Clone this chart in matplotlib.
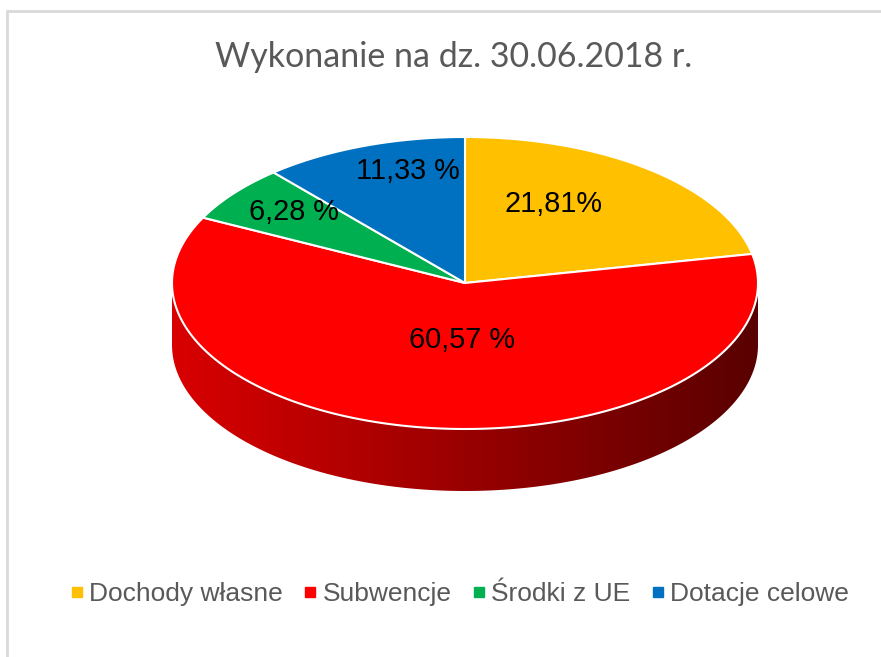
import matplotlib
matplotlib.use("Agg")
import matplotlib.pyplot as plt
from matplotlib.patches import Polygon
from matplotlib.lines import Line2D
from matplotlib import colors
import numpy as np

# data
categories = ["Dochody własne", "Subwencje", "Środki z UE", "Dotacje celowe"]
shares = [21.81, 60.57, 6.28, 11.33]
labels = ["21,81%", "60,57 %", "6,28 %", "11,33 %"]
slice_colors = ["#FFC000", "#FF0000", "#00B050", "#0070C0"]
title = "Wykonanie na dz. 30.06.2018 r."

# layout in pixels (figure is 881 x 657)
W, H = 881, 657
CX, CY = 465, 283      # centre of the pie top
RX, RY = 293, 146      # half axes of the top ellipse
DEPTH = 62             # height of the pie side
# where each label sits: fraction of radius and angle tweak (deg)
label_r = [0.62, 0.39, 0.76, 0.79]
label_dt = [10, 6, -2, -6]

fig = plt.figure(figsize=(W / 100, H / 100), dpi=100)
ax = fig.add_axes([0, 0, 1, 1])
ax.set_xlim(0, W)
ax.set_ylim(H, 0)
ax.axis("off")


def ell(t, dy=0.0):
    t = np.radians(t)
    return np.column_stack([CX + RX * np.cos(t), CY - RY * np.sin(t) + dy])


# slice angles, clockwise from 12 o'clock
total = sum(shares)
starts, ends = [], []
a = 90.0
for v in shares:
    starts.append(a)
    a -= 360.0 * v / total
    ends.append(a)

# side band (only the front half, sin < 0, is visible)
grad = np.linspace(0, 1, 256)
for s, e, c in zip(starts, ends, slice_colors):
    base = np.array(colors.to_rgb(c))
    for k in (-1, 0, 1):
        lo = max(e, -180 + 360 * k)
        hi = min(s, 0 + 360 * k)
        if hi <= lo:
            continue
        t = np.linspace(hi, lo, 200)
        top = ell(t)
        bot = ell(t[::-1], DEPTH)
        poly = Polygon(np.vstack([top, bot]), closed=True, fc="none", ec="none")
        ax.add_patch(poly)
        fac = 0.85 - 0.5 * grad
        img = (base[None, :] * fac[:, None])[None, :, :]
        im = ax.imshow(img, extent=(CX - RX, CX + RX, CY + RY + DEPTH, CY - RY),
                       aspect="auto", interpolation="bilinear", zorder=1)
        im.set_clip_path(poly)

# pie top
for s, e, c in zip(starts, ends, slice_colors):
    t = np.linspace(s, e, 200)
    pts = np.vstack([[CX, CY], ell(t)])
    ax.add_patch(Polygon(pts, closed=True, fc=c, ec="white", lw=1.5,
                         joinstyle="round", zorder=2))

# data labels
for s, e, lab, fr, dt in zip(starts, ends, labels, label_r, label_dt):
    mid = np.radians((s + e) / 2 + dt)
    x = CX + fr * RX * np.cos(mid)
    y = CY - fr * RY * np.sin(mid)
    ax.text(x, y, lab, ha="center", va="center", fontsize=20.8,
            family="Liberation Sans", color="black", zorder=3)

# title
ax.text(454, 57, title, ha="center", va="center", fontsize=24.5,
        family="Lato", color="#595959")

# chart area border (right and bottom lie outside the picture)
ax.plot([6.5, 6.5, W + 5], [H + 5, 10.5, 10.5], color="#D9D9D9", lw=2,
        solid_joinstyle="miter")

# legend
handles = [Line2D([], [], ls="none", marker="s", ms=7, mfc=c, mec=c)
           for c in slice_colors]
leg = fig.legend(handles, categories, loc="center", ncol=4,
                 bbox_to_anchor=(460 / W, 1 - 594 / H), frameon=False,
                 handlelength=0.45, handletextpad=0.25, columnspacing=0.8,
                 prop={"family": "Liberation Sans", "size": 19})
for txt in leg.get_texts():
    txt.set_color("#595959")

fig.savefig("out.png", dpi=100)
